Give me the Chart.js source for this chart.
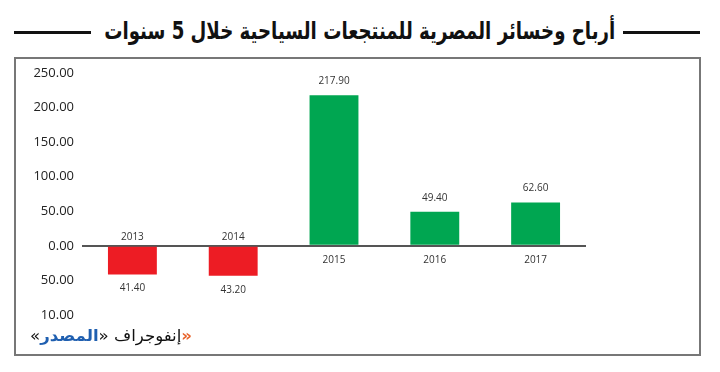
<!DOCTYPE html>
<html>
<head>
<meta charset="utf-8">
<script src="https://cdn.jsdelivr.net/npm/chart.js@4.4.1/dist/chart.umd.min.js"></script>
<style>
  body { margin: 0; background: #fff; }
  #wrap { position: relative; width: 720px; height: 372px; overflow: hidden; }
  #chart { position: absolute; left: 0; top: 0; }
  .rule { position: absolute; height: 3px; background: #111; top: 31px; }
  #title { position: absolute; top: 17px; left: 0; width: 720px; text-align: center;
           font-family: "DejaVu Sans", sans-serif; font-weight: bold; font-size: 24px; color: #111; white-space: nowrap; }
  #title span { display: inline-block; transform-origin: center; }
  #box { position: absolute; left: 14px; top: 57px; width: 683px; height: 295px; border: 2px solid #777; }
  #footer { position: absolute; left: 30px; top: 326px; display: flex; align-items: center;
            font-family: "DejaVu Sans", sans-serif; font-size: 16px; color: #111; white-space: pre;
            transform-origin: left center; }
</style>
</head>
<body>
<div id="wrap">
  <div class="rule" style="left:14px;width:77px"></div>
  <div class="rule" style="left:623px;width:77px"></div>
  <div id="title"><span id="titleText" dir="rtl">أرباح وخسائر المصرية للمنتجعات السياحية خلال 5 سنوات</span></div>
  <div id="box"></div>
  <canvas id="chart" width="720" height="372"></canvas>
  <div id="footer">
    <span>«</span><span style="color:#1f5fb0;font-weight:bold">المصدر</span><span>» </span><span>إنفوجراف</span><span style="color:#e8632b;font-weight:bold">»</span>
  </div>
</div>
<script>
// data
const years = ['2013', '2014', '2015', '2016', '2017'];
const profits = [-41.4, -43.2, 217.9, 49.4, 62.6];
const yTickLabels = ['10.00', '50.00', '0.00', '50.00', '100.00', '150.00', '200.00', '250.00'];

// squeeze the title and footer to the widths used in the picture
const t = document.getElementById('titleText');
t.style.transform = 'scaleX(' + (511 / t.getBoundingClientRect().width) + ')';
const f = document.getElementById('footer');
f.style.transform = 'scaleX(' + (162 / f.getBoundingClientRect().width) + ')';

const barColors = profits.map(v => v < 0 ? '#ed1c24' : '#00a651');

// year and value labels next to each bar
const barLabels = {
  id: 'barLabels',
  afterDatasetsDraw(chart) {
    const ctx = chart.ctx;
    const zero = chart.scales.y.getPixelForValue(0);
    ctx.save();
    ctx.fillStyle = '#333';
    ctx.textAlign = 'center';
    ctx.textBaseline = 'middle';
    ctx.font = '10px "Open Sans", sans-serif';
    chart.getDatasetMeta(0).data.forEach((bar, i) => {
      const v = profits[i];
      if (v >= 0) {
        ctx.fillText(Math.abs(v).toFixed(2), bar.x, bar.y - 14);
        ctx.fillText(years[i], bar.x, zero + 14);
      } else {
        ctx.fillText(Math.abs(v).toFixed(2), bar.x, bar.y + 14);
        ctx.fillText(years[i], bar.x, zero - 9);
      }
    });
    ctx.restore();
  }
};

new Chart(document.getElementById('chart').getContext('2d'), {
  type: 'bar',
  data: {
    labels: years,
    datasets: [{
      data: profits,
      backgroundColor: barColors,
      categoryPercentage: 1,
      barPercentage: 0.485
    }]
  },
  options: {
    responsive: false,
    animation: false,
    layout: { padding: { left: 0, top: 73, right: 134, bottom: 57 } },
    plugins: { legend: { display: false }, tooltip: { enabled: false } },
    scales: {
      x: { display: false },
      y: {
        min: -100,
        max: 250,
        afterFit: s => { s.width = 82; },
        border: { display: false },
        grid: {
          drawTicks: false,
          lineWidth: 2,
          color: c => c.tick && c.tick.value === 0 ? '#555' : 'rgba(0,0,0,0)'
        },
        ticks: {
          stepSize: 50,
          padding: 8,
          color: '#222',
          font: { family: 'Open Sans', size: 13 },
          callback: (v, i) => yTickLabels[i]
        }
      }
    }
  },
  plugins: [barLabels]
});
</script>
</body>
</html>
